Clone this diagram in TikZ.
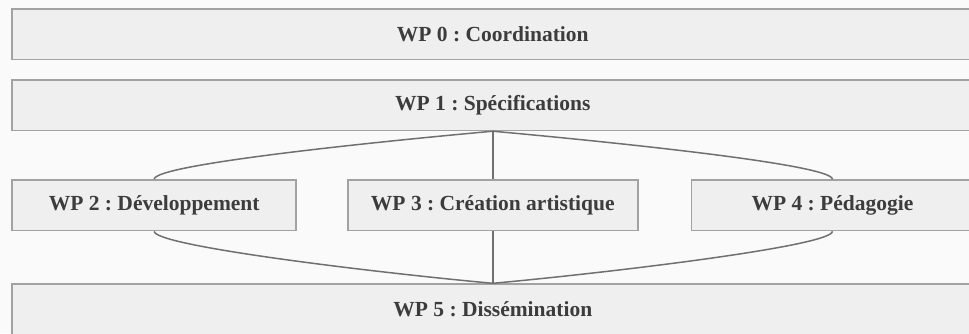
\documentclass[tikz,border=0pt]{standalone}
\usepackage{fontspec}
\setmainfont{Liberation Serif}
\usetikzlibrary{positioning}
\definecolor{Paper}{HTML}{FAFAFA}
\definecolor{BoxFill}{HTML}{EFEFEF}
\definecolor{BoxLine}{HTML}{A2A2A2}
\definecolor{Link}{HTML}{707070}
\definecolor{Ink}{HTML}{3C3C3C}
\newcommand{\wpfont}{\fontsize{21.5}{24}\selectfont\bfseries\frenchspacing}

\begin{document}
\begin{tikzpicture}[x=1pt,y=-1pt,node distance=19pt,
  wp/.style={draw=BoxLine,line width=1.6pt,fill=BoxFill,minimum height=50.5pt,inner sep=0pt,font=\wpfont,text=Ink},
  wide/.style={wp,minimum width=962pt},
  link/.style={draw=Link,line width=1.5pt}]
\fill[Paper] (0,0) rectangle (969,333);
\useasboundingbox (0,0) rectangle (969,333);
\node[wide,anchor=north west](w0) at (11,8){WP 0 : Coordination};
\node[wide,below=of w0](w1){WP 1 : Spécifications};
\node[wp,minimum width=290pt,below=48pt of w1](w3){WP 3 : Création artistique};
\node[wp,minimum width=284pt,left=50pt of w3](w2){WP 2 : Développement};
\node[wp,minimum width=282pt,right=52pt of w3](w4){WP 4 : Pédagogie};
\node[wide,below=52pt of w3](w5){WP 5 : Dissémination};
\draw[link](w1.south) .. controls +(-110,10) and +(0,-15) .. (w2.north);
\draw[link](w1.south) -- (w3.north);
\draw[link](w1.south) .. controls +(110,10) and +(0,-15) .. (w4.north);
\draw[link](w2.south) .. controls +(0,15) and +(-110,-10) .. (w5.north);
\draw[link](w3.south) -- (w5.north);
\draw[link](w4.south) .. controls +(0,15) and +(110,-10) .. (w5.north);
\end{tikzpicture}
\end{document}
